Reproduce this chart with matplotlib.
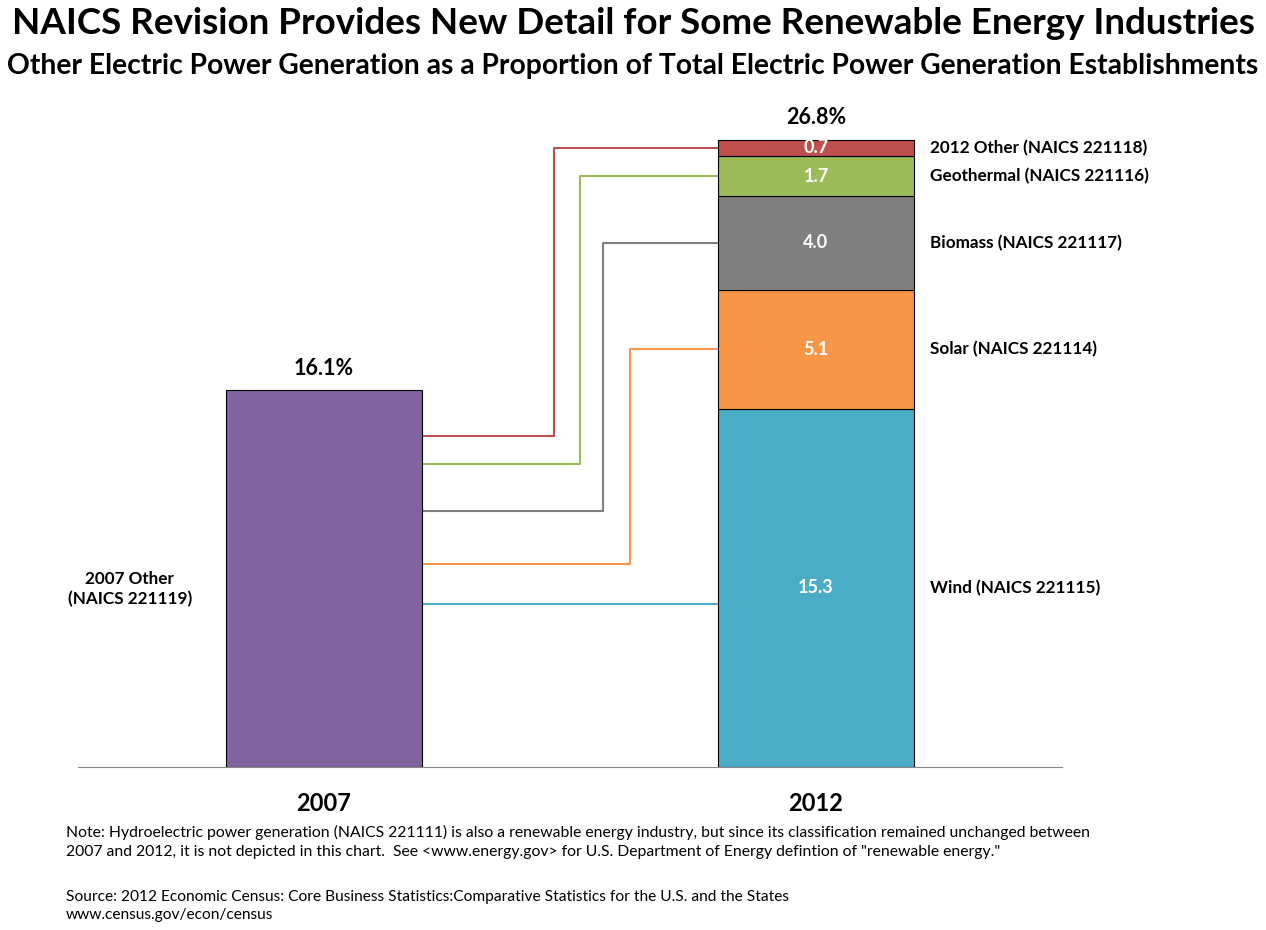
import matplotlib
matplotlib.use("Agg")
import matplotlib.pyplot as plt
import numpy as np

plt.rcParams["font.family"] = ["Lato", "DejaVu Sans"]

# data
years = ["2007", "2012"]
total_2007 = 16.1
segment_names = [
    "Wind (NAICS 221115)",
    "Solar (NAICS 221114)",
    "Biomass (NAICS 221117)",
    "Geothermal (NAICS 221116)",
    "2012 Other (NAICS 221118)",
]
segment_values = [15.3, 5.1, 4.0, 1.7, 0.7]
total_2012 = 26.8
segment_colors = ["#4BACC6", "#F79646", "#7F7F7F", "#9BBB59", "#C0504D"]
color_2007 = "#8064A2"
label_2007 = "2007 Other\n(NAICS 221119)"

# connector layout: height where each line leaves the 2007 bar, and x of the elbow
conn_start = [6.97, 8.68, 10.94, 12.95, 14.15]
conn_elbow = [None, 0.622, 0.567, 0.521, 0.468]

title = "NAICS Revision Provides New Detail for Some Renewable Energy Industries"
subtitle = ("Other Electric Power Generation as a Proportion of Total Electric Power "
            "Generation Establishments")
note = ("Note: Hydroelectric power generation (NAICS 221111) is also a renewable energy industry, "
        "but since its classification remained unchanged between\n2007 and 2012, it is not depicted "
        "in this chart.  See <www.energy.gov> for U.S. Department of Energy defintion of "
        "\"renewable energy.\"")
source = ("Source: 2012 Economic Census: Core Business Statistics:Comparative Statistics for the "
          "U.S. and the States\nwww.census.gov/econ/census")

W, H = 1266, 930
fig = plt.figure(figsize=(W / 100, H / 100), dpi=100)
ax = fig.add_axes([78 / W, (H - 767) / H, (1062 - 78) / W, (767 - 100) / H])
ax.set_xlim(-0.5, 1.5)
ax.set_ylim(0, 28.5)

bw = 0.4
ax.bar(0, total_2007, width=bw, color=color_2007, edgecolor="black", linewidth=0.8, zorder=3)
bottoms = np.concatenate([[0], np.cumsum(segment_values)[:-1]])
for val, bot, col, name in zip(segment_values, bottoms, segment_colors, segment_names):
    ax.bar(1, val, bottom=bot, width=bw, color=col, edgecolor="black", linewidth=0.8, zorder=3)
    mid = bot + val / 2
    ax.text(1, mid, f"{val:.1f}", ha="center", va="center", color="white",
            fontsize=13, fontweight="bold", zorder=4)
    ax.text(1.232, mid, name, ha="left", va="center", fontsize=12.3, fontweight="bold")

# connectors
x0 = bw / 2
x1 = 1 - bw / 2
for ys, xe, val, bot, col in zip(conn_start, conn_elbow, segment_values, bottoms, segment_colors):
    mid = bot + val / 2
    if xe is None:
        ax.plot([x0, x1], [ys, ys], color=col, lw=1.5, zorder=2)
    else:
        ax.plot([x0, xe, xe, x1], [ys, ys, mid, mid], color=col, lw=1.5, zorder=2)

ax.text(0, total_2007 + 0.5, f"{total_2007}%", ha="center", va="bottom",
        fontsize=15.5, fontweight="bold")
ax.text(1, total_2012 + 0.5, f"{total_2012}%", ha="center", va="bottom",
        fontsize=15.5, fontweight="bold")
ax.text(-0.395, 7.6, label_2007, ha="center", va="center", fontsize=12.3,
        fontweight="bold", linespacing=1.3)

for s in ["top", "right", "left"]:
    ax.spines[s].set_visible(False)
ax.spines["bottom"].set_color("#888888")
ax.set_yticks([])
ax.set_xticks([0, 1])
ax.set_xticklabels(years, fontsize=17, fontweight="bold")
ax.tick_params(axis="x", length=0, pad=18)

fig.text(0.5, 1 - 24 / H, title, ha="center", va="center", fontsize=26.5, fontweight="bold")
fig.text(0.5, 1 - 66 / H, subtitle, ha="center", va="center", fontsize=20.3, fontweight="bold")
fig.text(66 / W, 1 - 842 / H, note, ha="left", va="center", fontsize=11.3, linespacing=1.45)
fig.text(66 / W, 1 - 906 / H, source, ha="left", va="center", fontsize=11.2, linespacing=1.45)

fig.savefig("out.png", dpi=100, facecolor="white")
